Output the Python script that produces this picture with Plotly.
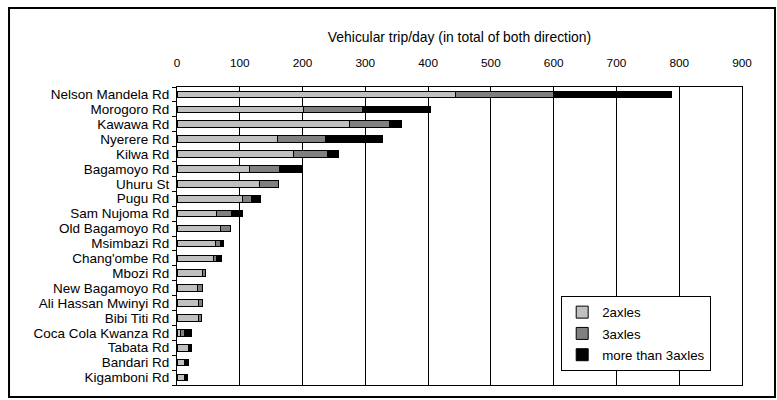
import plotly.graph_objects as go

# Daily vehicle trips per road (both directions), split by number of axles
roads = [
    "Nelson Mandela Rd", "Morogoro Rd", "Kawawa Rd", "Nyerere Rd", "Kilwa Rd",
    "Bagamoyo Rd", "Uhuru St", "Pugu Rd", "Sam Nujoma Rd", "Old Bagamoyo Rd",
    "Msimbazi Rd", "Chang'ombe Rd", "Mbozi Rd", "New Bagamoyo Rd",
    "Ali Hassan Mwinyi Rd", "Bibi Titi Rd", "Coca Cola Kwanza Rd", "Tabata Rd",
    "Bandari Rd", "Kigamboni Rd",
]
two_axles = [443, 201, 275, 160, 186, 115, 131, 105, 63, 70, 62, 58, 41, 32, 35, 34, 6, 19, 12, 12]
three_axles = [156, 95, 64, 77, 53, 49, 30, 13, 24, 16, 8, 5, 4, 9, 6, 5, 6, 1, 1, 2]
more_axles = [189, 108, 18, 90, 19, 36, 0, 15, 17, 0, 4, 8, 0, 0, 0, 0, 11, 3, 6, 3]

x_ticks = list(range(0, 1000, 100))

series = [
    ("2axles", two_axles, "#c0c0c0"),
    ("3axles", three_axles, "#808080"),
    ("more than 3axles", more_axles, "#000000"),
]

FONT = 'Arial, "Liberation Sans", sans-serif'

fig = go.Figure()
for i, (name, vals, color) in enumerate(series):
    fig.add_trace(go.Bar(
        y=roads, x=vals, name=name, orientation="h",
        marker=dict(color=color, line=dict(color="#000000", width=1)),
        legendgroup=f"g{i}",
    ))

fig.update_layout(
    width=777, height=400,
    margin=dict(l=177, r=35, t=87, b=15),
    barmode="stack", bargap=0.56,
    paper_bgcolor="white", plot_bgcolor="white",
    font=dict(family=FONT, color="#000000"),
    showlegend=True,
    legend=dict(
        x=0.68, y=0.2987, xanchor="left", yanchor="top",
        bgcolor="white", bordercolor="#000000", borderwidth=1,
        font=dict(size=13.3, family=FONT),
        traceorder="grouped", tracegroupgap=1,
        itemwidth=30,
    ),
    xaxis=dict(
        side="top", range=[0, 900], tickvals=x_ticks,
        showgrid=True, gridcolor="#000000", gridwidth=1,
        zeroline=False, showline=True, mirror=True,
        linecolor="#000000", linewidth=1,
        ticks="", ticklabelstandoff=14,
        tickfont=dict(size=11.8, family=FONT),
        title=dict(text="Vehicular trip/day (in total of both direction)",
                   font=dict(size=13.9, family=FONT), standoff=10),
        fixedrange=True,
    ),
    yaxis=dict(
        categoryorder="array", categoryarray=roads, autorange="reversed",
        tickmode="array", tickvals=roads, ticktext=roads,
        showline=True, mirror=True, linecolor="#000000", linewidth=1,
        ticks="outside", ticklen=4, tickcolor="#000000", tickson="boundaries",
        ticklabelstandoff=4,
        tickfont=dict(size=13.5, family=FONT),
        showgrid=False, fixedrange=True,
    ),
    shapes=[dict(
        type="rect", xref="paper", yref="paper",
        x0=-0.2973, x1=1.0584, y0=-0.0403, y1=1.265,
        line=dict(color="#000000", width=2), fillcolor="rgba(0,0,0,0)",
        layer="below",
    )],
)

fig.write_html("out.html")
